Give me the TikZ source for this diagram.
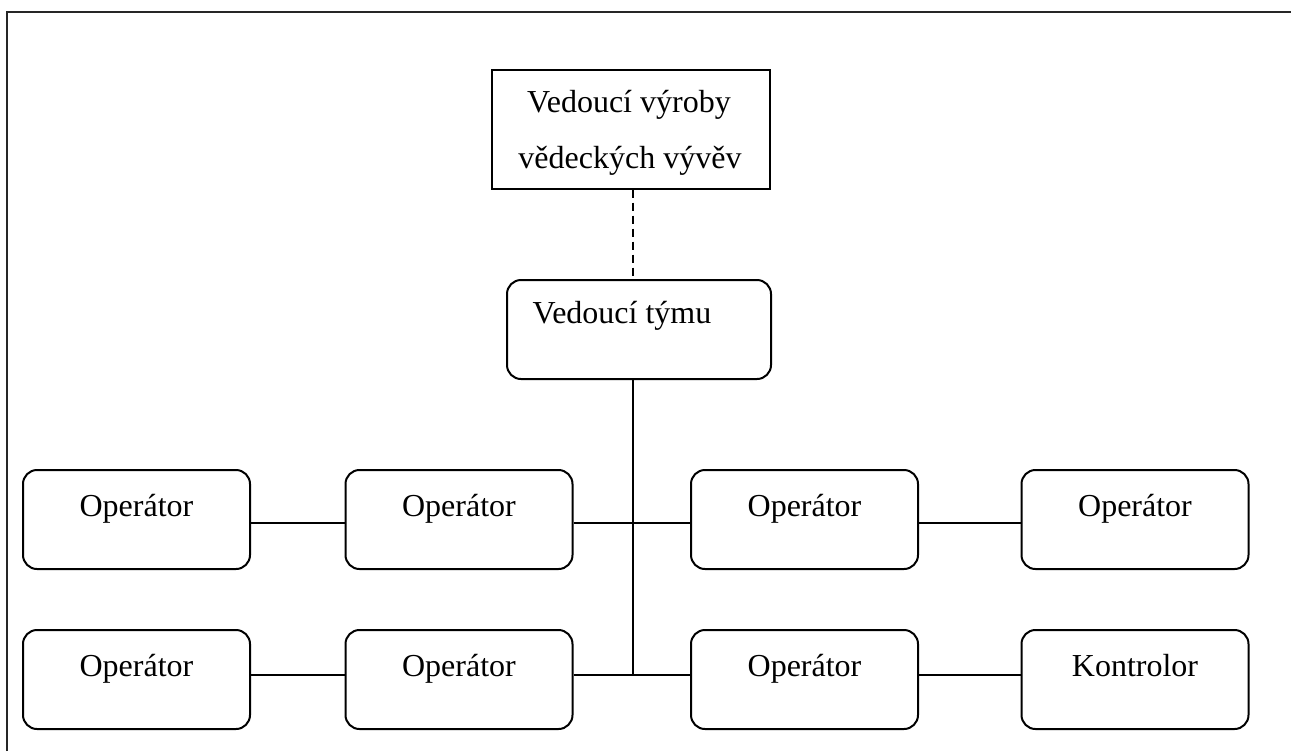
\documentclass[tikz,border=0pt]{standalone}
\usepackage{fontspec}
\setmainfont{Liberation Serif}
\begin{document}
\begin{tikzpicture}[x=0.5pt,y=-0.5pt,
  frame/.style={line width=1.3pt,black!85},
  headbox/.style={draw,line width=0.7pt,inner sep=0pt,minimum width=139pt,minimum height=59.5pt},
  rbox/.style={draw,line width=1pt,rounded corners=7pt,inner sep=0pt,minimum height=49.5pt},
  opbox/.style={rbox,minimum width=113.5pt},
  txt/.style={anchor=base,inner sep=0pt,font=\fontsize{16}{19}\selectfont},
  link/.style={line width=0.9pt},
  dashlink/.style={line width=0.7pt,dash pattern=on 4pt off 2.5pt}]
\useasboundingbox (0,0) rectangle (1291,751);

% page frame (top and left edges)
\coordinate (fr) at (1291,12);
\coordinate (fb) at (7,751);
\draw[frame] (fb) -- (7,12) -- (fr);

% head of production
\node[headbox] (head) at (631,129.5) {};
\node[txt] (headA) at (629,112) {Vedoucí výroby};
\node[txt] (headB) at (630,168) {vědeckých vývěv};

% team leader
\node[rbox,minimum width=132pt] (team) at (639,329.5) {};
\node[txt] (teamT) at (622,323) {Vedoucí týmu};

% operator rows
\foreach \n/\x in {1/136.5,2/459,3/804.5,4/1135}{
  \node[opbox] (a\n) at (\x,519.5) {};
  \node[opbox] (b\n) at (\x,679.5) {};
}
\foreach \n/\x in {1/136.5,2/459,3/804.5,4/1135}{
  \node[txt] (ta\n) at (\x,516) {Operátor};
}
\foreach \n/\x in {1/136.5,2/459,3/804.5}{
  \node[txt] (tb\n) at (\x,676) {Operátor};
}
\node[txt] (tb4) at (1135,676) {Kontrolor};

% connectors
\coordinate (spine) at (633,0);
\coordinate (rowA) at (0,523);
\coordinate (rowB) at (0,675);
\draw[dashlink] (head.south -| spine) -- (team.north -| spine);
\draw[link] (team.south -| spine) -- (spine |- rowB);
\draw[link] (a1.east |- rowA) -- (a2.west |- rowA);
\draw[link] (a2.east |- rowA) -- (a3.west |- rowA);
\draw[link] (a3.east |- rowA) -- (a4.west |- rowA);
\draw[link] (b1.east |- rowB) -- (b2.west |- rowB);
\draw[link] (b2.east |- rowB) -- (b3.west |- rowB);
\draw[link] (b3.east |- rowB) -- (b4.west |- rowB);
\end{tikzpicture}
\end{document}
